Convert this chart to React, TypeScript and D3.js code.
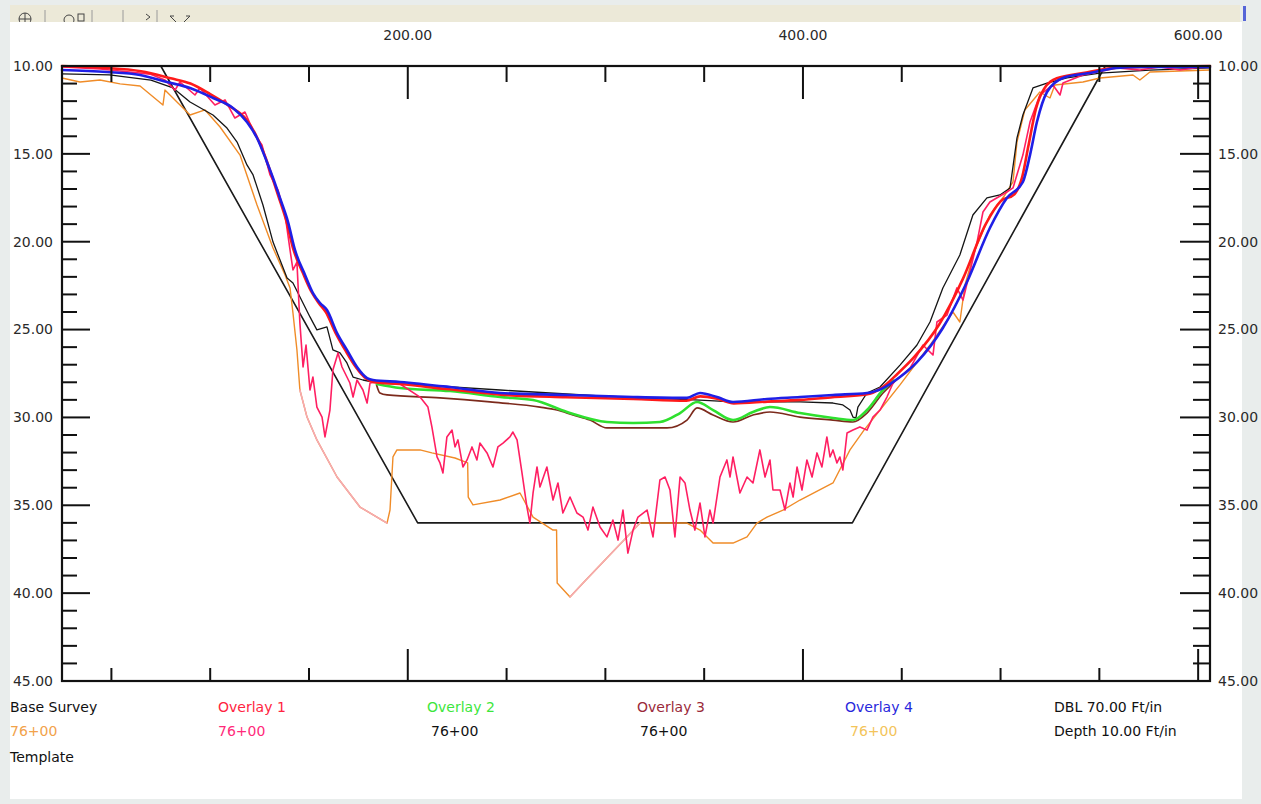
import React from "react";
import * as d3 from "d3";

type Pt = [number, number];

// Offset along the cross-section (ft) and depth (ft)
const offsetTicks = d3.range(50, 601, 50);
const offsetLabels = [200, 400, 600];
const depthTicks = d3.range(10, 46, 1);
const depthLabels = [10, 15, 20, 25, 30, 35, 40, 45];

// Design channel template
const templateSection: Pt[] = [
  [25, 10], [75, 10], [205, 36], [425, 36], [553, 10], [606, 10],
];

// Base survey soundings (orange), with two stretches drawn faint
const baseSurvey: Pt[] = [
  [25, 10.68], [34.1, 10.91], [44.2, 10.8], [54.4, 11.02], [64.5, 11.14], [76.1, 12.22], [77.1, 11.37],
  [89.8, 12.79], [97.4, 12.5], [105.0, 13.47], [115.1, 15.07], [123.7, 17.91], [131.8, 20.36],
  [137.9, 21.89], [140.4, 22.63], [141.9, 24.06], [143.9, 26.16], [145.4, 28.44], [149.0, 29.98],
  [154.0, 31.28], [164.2, 33.39], [175.8, 35.1], [184.4, 35.67], [189.5, 36.01], [191.0, 35.27],
  [192.5, 32.25], [194.5, 31.85], [206.2, 31.85], [212.2, 32.02], [223.9, 32.31], [230.3, 32.59],
  [230.6, 34.53], [233.0, 34.98], [246.7, 34.7], [256.8, 34.3], [263.4, 35.67], [273.5, 36.41],
  [275.3, 36.41], [275.6, 39.42], [282.1, 40.22], [288.7, 39.42], [310.9, 36.8], [317.5, 36.01],
  [341.3, 36.01], [347.9, 36.41], [354.5, 37.15], [364.6, 37.15], [371.7, 36.8], [376.7, 36.01],
  [381.8, 35.67], [389.9, 35.27], [398.5, 34.7], [415.2, 33.73], [423.8, 31.85], [430.9, 30.72],
  [439.0, 29.58], [449.1, 28.15], [464.3, 25.88], [475.9, 24.0], [479.4, 24.57], [482.0, 22.46],
  [487.0, 20.47], [494.6, 18.48], [502.2, 17.34], [506.3, 16.6], [508.3, 14.33], [512.3, 12.5],
  [519.9, 11.48], [525.0, 11.82], [527.5, 11.08], [541.7, 10.91], [550.3, 10.68], [567.0, 10.51],
  [570.5, 10.8], [575.6, 10.34], [606, 10.23],
];
const baseSurveyFaintRanges: Pt[] = [[145.4, 189.5], [282.1, 317.5]];

// Existing bottom (black)
const existingBottom: Pt[] = [
  [25, 10.45], [49, 10.5], [70, 10.8], [81.2, 11.25], [89.8, 12.05], [101.4, 12.79], [108.5, 13.53],
  [113.6, 14.33], [118.6, 15.63], [121.7, 16.2], [126.7, 17.91], [131.8, 20.02], [138.9, 22.07],
  [141.9, 22.35], [150.5, 24.28], [154.0, 25.02], [159.1, 24.85], [162.1, 26.16], [165.7, 26.33],
  [169.2, 26.9], [172.3, 27.7], [177.3, 27.87], [184.4, 28.04], [206.2, 28.15], [246.7, 28.44],
  [297.3, 28.78], [347.9, 29.01], [364.6, 29.12], [398.5, 29.12], [415.2, 29.18], [420.2, 29.29],
  [423.8, 29.58], [425.3, 29.98], [426.8, 30.03], [427.8, 29.41], [432.4, 28.61], [439.0, 28.27],
  [449.1, 27.02], [457.7, 25.88], [464.3, 24.57], [470.8, 22.63], [479.4, 20.76], [486.0, 18.48],
  [493.1, 17.51], [499.7, 17.34], [504.8, 16.94], [508.3, 14.1], [511.3, 12.79], [516.4, 11.25],
  [523.5, 10.97], [533.6, 10.68], [550.3, 10.4], [575.6, 10.23], [606, 10.11],
];

// Overlay 1 raw soundings (pink)
const overlay1Soundings: Pt[] = [
  [25, 10.06], [44.2, 10.17], [59.4, 10.34], [69.5, 10.46], [77.1, 10.8], [82.2, 11.37], [84.7, 10.91],
  [92.3, 11.65], [94.8, 11.25], [102.4, 12.22], [107.5, 11.93], [112.5, 12.96], [117.6, 12.62],
  [122.7, 13.93], [126.2, 14.5], [130.3, 16.2], [134.3, 17.06], [137.9, 18.48], [140.4, 20.47],
  [141.9, 21.61], [143.9, 21.16], [145.4, 24.63], [147.0, 27.13], [148.5, 25.88], [150.5, 28.44],
  [152.0, 27.7], [154.0, 29.41], [156.6, 29.98], [158.1, 31.11], [160.6, 29.58], [162.1, 27.3],
  [164.7, 26.33], [166.7, 27.13], [169.2, 27.7], [170.7, 28.04], [172.3, 28.84], [174.3, 27.87],
  [177.3, 28.44], [179.4, 29.18], [180.9, 28.04], [184.4, 27.98], [196.1, 28.1], [206.2, 28.84],
  [210.2, 29.41], [212.2, 30.54], [214.8, 32.25], [216.3, 32.59], [217.8, 33.16], [219.8, 31.11],
  [222.4, 30.72], [223.9, 31.68], [225.4, 31.28], [227.9, 32.82], [230.0, 32.42], [232.5, 31.68],
  [235.0, 32.42], [236.5, 31.46], [240.1, 32.02], [243.1, 32.82], [245.6, 31.68], [248.2, 31.46],
  [251.7, 31.11], [253.2, 30.83], [255.3, 31.28], [257.8, 33.16], [260.3, 35.1], [261.8, 36.01],
  [263.4, 34.3], [265.4, 32.82], [266.9, 33.96], [270.4, 32.82], [273.5, 34.7], [276.0, 33.73],
  [278.5, 35.44], [282.1, 34.53], [285.6, 35.44], [288.7, 35.67], [291.2, 36.41], [293.7, 35.1],
  [297.3, 36.24], [300.8, 36.8], [303.8, 35.84], [306.4, 36.98], [308.9, 35.27], [311.4, 37.72],
  [314.0, 36.41], [316.5, 35.67], [321.1, 35.27], [324.1, 36.8], [327.6, 33.56], [330.2, 33.39],
  [332.7, 34.13], [335.2, 36.8], [337.8, 33.39], [340.3, 33.73], [342.8, 35.27], [345.3, 36.41],
  [347.9, 34.87], [350.4, 36.8], [352.9, 35.27], [354.5, 36.01], [358.0, 33.39], [361.5, 32.42],
  [363.1, 33.39], [364.6, 32.25], [368.1, 34.3], [371.7, 33.39], [374.7, 33.73], [378.2, 31.85],
  [380.8, 33.39], [383.3, 32.42], [384.8, 34.13], [388.4, 34.13], [390.9, 35.27], [393.4, 33.73],
  [395.0, 34.53], [397.0, 32.82], [399.5, 34.13], [402.0, 32.42], [404.6, 33.39], [407.1, 32.02],
  [409.6, 32.82], [412.1, 31.11], [413.7, 32.25], [415.2, 31.85], [417.2, 32.59], [418.7, 32.25],
  [420.2, 32.99], [422.3, 30.89], [425.3, 30.72], [428.8, 30.54], [432.4, 30.72], [435.4, 29.98],
  [439.0, 29.58], [442.5, 28.84], [445.6, 28.04], [454.2, 27.19], [460.7, 25.88], [465.8, 26.45],
  [467.8, 24.57], [472.9, 24.17], [477.9, 22.63], [481.0, 23.32], [488.1, 20.02], [491.1, 18.31],
  [494.6, 17.74], [503.2, 17.17], [506.3, 16.94], [511.3, 15.07], [514.9, 13.19], [519.9, 11.65],
  [526.5, 11.08], [530.1, 11.65], [531.6, 10.97], [541.7, 10.51], [558.9, 10.11], [570.5, 10.23],
  [580.6, 10.06], [590.8, 10.23], [598, 10.11], [606, 10.06],
];

// Overlay 1 (red)
const overlay1: Pt[] = [
  [25, 10.0], [45, 10.1], [65, 10.3], [80, 10.7], [90, 11.0], [100, 11.6], [110, 12.3], [118, 13.0],
  [123, 13.9], [128, 15.2], [131, 16.2], [134.5, 17.4], [138.5, 18.8], [142, 20.4], [147, 21.8],
  [151, 22.8], [155, 23.5], [158.5, 24.0], [163.5, 25.2], [168.5, 26.2], [173.5, 27.1], [179, 27.8],
  [183, 28.0], [196, 28.1], [221, 28.4], [247, 28.7], [280, 28.85], [314, 28.95], [341, 29.05],
  [348, 28.8], [357, 28.95], [365, 29.2], [382, 29.1], [398.5, 29.0], [415, 28.85], [432, 28.7],
  [440, 28.3], [448, 27.5], [456, 26.6], [469, 24.7], [481, 22.1], [492.5, 19.0], [500, 17.7],
  [507, 17.3], [511, 16.3], [514, 14.6], [518, 12.4], [522, 11.3], [528.5, 10.7], [541.7, 10.4],
  [558.9, 10.1], [606, 10.0],
];

// Overlay 2 (green)
const overlay2: Pt[] = [
  [184.4, 28.1], [196.1, 28.33], [221.4, 28.5], [246.7, 28.84], [263.4, 29.01], [280.6, 29.69],
  [300.8, 30.26], [314.0, 30.32], [327.6, 30.26], [337.8, 29.75], [346.4, 29.12], [354.5, 29.58],
  [364.6, 30.15], [374.7, 29.69], [383.3, 29.41], [398.5, 29.75], [415.2, 30.03], [425.3, 30.15],
  [432.4, 29.58], [440.5, 28.44], [446, 27.9],
];

// Overlay 3 (maroon)
const overlay3: Pt[] = [
  [184.2, 28.15], [185.9, 28.61], [189.5, 28.72], [216.3, 28.89], [241.6, 29.12], [266.9, 29.41],
  [275.5, 29.58], [283.6, 29.86], [292.2, 30.15], [300.8, 30.6], [331.2, 30.6], [341.3, 30.15],
  [346.4, 29.46], [354.5, 29.86], [364.6, 30.26], [374.7, 29.86], [383.3, 29.69], [398.5, 29.98],
  [415.2, 30.15], [425.3, 30.26], [432.4, 29.75], [440.5, 28.61], [446, 28.0],
];

// Overlay 4 (blue)
const overlay4: Pt[] = [
  [25, 10.23], [47.8, 10.34], [64.5, 10.51], [78.1, 10.91], [89.8, 11.25], [101.4, 11.82],
  [111.5, 12.39], [118.6, 13.19], [123.7, 14.1], [128.7, 15.46], [131.8, 16.37], [135.3, 17.51],
  [139.4, 18.88], [142.9, 20.47], [148.0, 21.89], [152.0, 22.92], [155.6, 23.49], [159.1, 23.89],
  [164.2, 25.2], [169.2, 26.16], [174.3, 27.13], [179.4, 27.76], [182.4, 27.87], [196.1, 27.98],
  [221.4, 28.27], [246.7, 28.61], [280.6, 28.72], [314.0, 28.84], [341.3, 28.89], [347.9, 28.61],
  [356.5, 28.84], [364.6, 29.12], [381.8, 28.95], [398.5, 28.84], [415.2, 28.72], [432.4, 28.61],
  [440.5, 28.33], [449.1, 27.7], [457.7, 26.85], [470.8, 24.91], [483.0, 22.29], [494.6, 19.22],
  [503.2, 17.51], [511.3, 16.6], [514.9, 15.07], [518.4, 13.19], [523.5, 11.48], [531.6, 10.68],
  [545.2, 10.4], [558.9, 10.11], [570.5, 10.06], [606, 10.06],
];

// Legend text
const legendNames = ["Base Survey", "Overlay 1", "Overlay 2", "Overlay 3", "Overlay 4"];
const legendStations = ["76+00", "76+00", "76+00", "76+00", "76+00"];
const templateName = "Template";
const scaleNotes = ["DBL 70.00 Ft/in", "Depth 10.00 Ft/in"];

const W = 1261;
const H = 804;
const plot = { left: 62, right: 1210, top: 66, bottom: 681 };
const FONT = "'DejaVu Sans', Verdana, sans-serif";

const nameColors = ["#111111", "#ff2440", "#3ce63c", "#9a2a3a", "#2828dc"];
const stationColors = ["#f2a24a", "#ff2a7a", "#111111", "#111111", "#f3c45a"];
const legendCols = [10, 218, 427, 637, 845];
const stationCols = [10, 218, 431, 640, 850];

export default function App() {
  const x = d3.scaleLinear().domain([25, 606]).range([plot.left, plot.right]);
  const y = d3.scaleLinear().domain([10, 45]).range([plot.top, plot.bottom]);
  const fmt = d3.format(".2f");

  const straight = d3.line<Pt>().x((d) => x(d[0])).y((d) => y(d[1]));
  const smooth = d3
    .line<Pt>()
    .x((d) => x(d[0]))
    .y((d) => y(d[1]))
    .curve(d3.curveMonotoneX);

  const faintSegments = baseSurveyFaintRanges.map(([a, b]) =>
    baseSurvey.filter((p) => p[0] >= a && p[0] <= b)
  );

  const innerDepth = depthTicks.filter((d) => d > 10 && d < 45);

  return (
    <div style={{ position: "absolute", left: 0, top: 0 }}>
      <svg width={W} height={H} style={{ display: "block" }} fontFamily={FONT}>
        <rect width={W} height={H} fill="#e9edec" />

        {/* toolbar strip */}
        <rect x={10} y={5} width={1230} height={18} fill="#ece9d8" />
        <g stroke="#444" strokeWidth={1} fill="none">
          <circle cx={25} cy={19} r={6} />
          <line x1={19} y1={19} x2={31} y2={19} />
          <line x1={25} y1={13} x2={25} y2={25} />
          <circle cx={69} cy={20} r={5} />
          <rect x={78} y={14} width={6} height={7} />
          <line x1={150} y1={17} x2={146} y2={14} />
          <line x1={150} y1={17} x2={146} y2={20} />
          <line x1={170} y1={16} x2={176} y2={22} />
          <line x1={170} y1={16} x2={174} y2={16} />
          <line x1={184} y1={22} x2={190} y2={16} />
          <line x1={190} y1={16} x2={186} y2={16} />
        </g>
        <g stroke="#9a9a9a" strokeWidth={1}>
          <line x1={45} y1={10} x2={45} y2={23} />
          <line x1={92} y1={10} x2={92} y2={23} />
          <line x1={123} y1={10} x2={123} y2={23} />
          <line x1={157} y1={10} x2={157} y2={23} />
        </g>
        <rect x={1243} y={6} width={3} height={15} fill="#5565d8" />

        {/* chart panel */}
        <rect x={10} y={22} width={1232} height={777} fill="#ffffff" />

        {/* section lines */}
        <g fill="none" strokeLinejoin="round" strokeLinecap="round">
          <path d={straight(templateSection)!} stroke="#1a1a1a" strokeWidth={1.6} />
          <path d={straight(baseSurvey)!} stroke="#f08c28" strokeWidth={1.4} />
          {faintSegments.map((seg, i) => (
            <path key={i} d={straight(seg)!} stroke="#f6aab4" strokeWidth={1.5} />
          ))}
          <path d={straight(existingBottom)!} stroke="#151515" strokeWidth={1.3} />
          <path d={smooth(overlay3)!} stroke="#7c2a1c" strokeWidth={1.7} />
          <path d={smooth(overlay2)!} stroke="#2fe02f" strokeWidth={2.6} />
          <path d={straight(overlay1Soundings)!} stroke="#ff1f62" strokeWidth={1.6} />
          <path d={smooth(overlay1)!} stroke="#ff1a1a" strokeWidth={2.6} />
          <path d={smooth(overlay4)!} stroke="#1f1fe6" strokeWidth={2.6} />
        </g>

        {/* frame */}
        <rect
          x={plot.left}
          y={plot.top}
          width={plot.right - plot.left}
          height={plot.bottom - plot.top}
          fill="none"
          stroke="#111"
          strokeWidth={2.2}
        />

        {/* offset ticks, top and bottom */}
        <g stroke="#111" strokeWidth={2}>
          {offsetTicks.map((v) => {
            const major = v % 200 === 0;
            return (
              <g key={v}>
                <line x1={x(v)} x2={x(v)} y1={plot.top} y2={plot.top + (major ? 33 : 16)} />
                <line x1={x(v)} x2={x(v)} y1={plot.bottom} y2={plot.bottom - (major ? 32 : 13)} />
              </g>
            );
          })}
          {innerDepth.map((d) => {
            const major = d % 5 === 0;
            return (
              <g key={d}>
                <line x1={plot.left} x2={plot.left + (major ? 28 : 15)} y1={y(d)} y2={y(d)} />
                <line x1={plot.right} x2={plot.right - (major ? 30 : 17)} y1={y(d)} y2={y(d)} />
              </g>
            );
          })}
        </g>

        {/* tick labels */}
        <g fontSize={14} fill="#2a2a2a">
          {offsetLabels.map((v) => (
            <text key={v} x={x(v)} y={35} dy="0.35em" textAnchor="middle">
              {fmt(v)}
            </text>
          ))}
          {depthLabels.map((d) => (
            <g key={d}>
              <text x={53} y={y(d)} dy="0.35em" textAnchor="end">
                {fmt(d)}
              </text>
              <text x={1218} y={y(d)} dy="0.35em" textAnchor="start">
                {fmt(d)}
              </text>
            </g>
          ))}
        </g>

        {/* legend */}
        <g fontSize={14}>
          {legendNames.map((n, i) => (
            <g key={n}>
              <text x={legendCols[i]} y={707} dy="0.35em" fill={nameColors[i]}>
                {n}
              </text>
              <text x={stationCols[i]} y={731} dy="0.35em" fill={stationColors[i]}>
                {legendStations[i]}
              </text>
            </g>
          ))}
          <text x={10} y={757} dy="0.35em" fill="#111">
            {templateName}
          </text>
          {scaleNotes.map((t, i) => (
            <text key={t} x={1054} y={707 + i * 24} dy="0.35em" fill="#111">
              {t}
            </text>
          ))}
        </g>
      </svg>
    </div>
  );
}
